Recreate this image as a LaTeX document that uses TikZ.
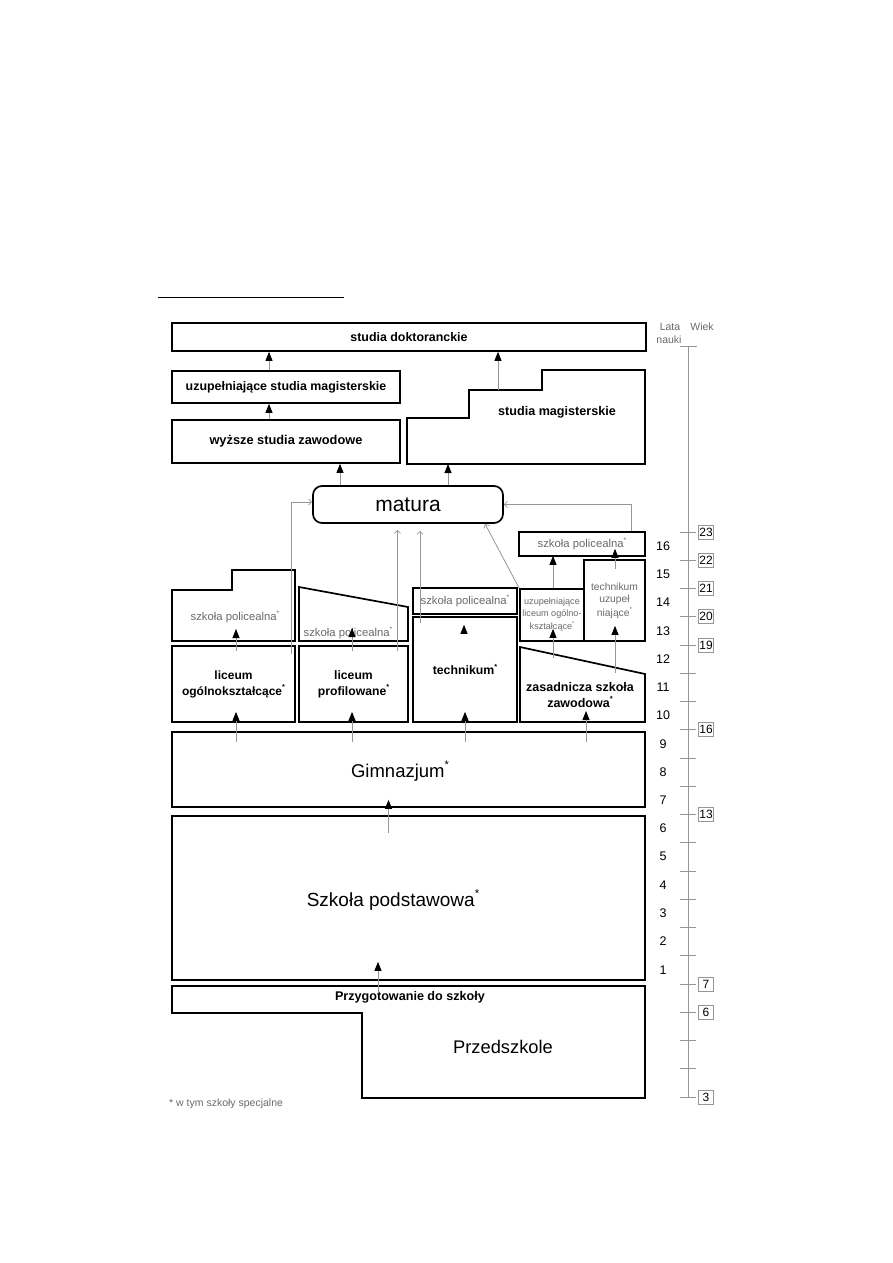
\documentclass[tikz,border=0pt]{standalone}
\usepackage{fontspec}
\setmainfont{Liberation Sans}
\usetikzlibrary{arrows.meta,positioning,calc}
\definecolor{LineGray}{RGB}{150,150,150}
\definecolor{TextGray}{RGB}{105,105,105}
\newcommand{\setfs}[1]{\fontsize{#1}{#1}\selectfont}
\newcommand{\st}{\raisebox{0.45em}{\scalebox{0.6}{*}}}
\tikzset{
  box/.style={draw=black, line width=1.7pt, inner sep=0pt, align=center},
  outline/.style={draw=black, line width=1.7pt},
  up/.style={draw=LineGray, line width=0.8pt, -{Triangle[width=7pt,length=9pt,color=black]}},
  feed/.style={draw=LineGray, line width=0.8pt, -{Straight Barb[width=6pt,length=3pt]}},
  graytext/.style={text=TextGray, inner sep=0pt, align=center},
  agebox/.style={draw=LineGray, line width=0.6pt, inner sep=0pt,
    minimum width=15pt, minimum height=14pt, font=\setfs{12}}
}

\begin{document}
\begin{tikzpicture}[x=1pt, y=-1pt]
  \useasboundingbox (0,0) rectangle (893,1263);
  \draw[line width=0.8pt] (158,297) -- (344,297);

  % studia
  \node[box, minimum width=474pt, minimum height=28pt, font=\setfs{12.4}\bfseries]
    (dokt) at (409,337) {studia doktoranckie};
  \node[box, minimum width=228pt, minimum height=32pt, font=\setfs{12.4}\bfseries]
    (uzmag) at (286,387) {uzupełniające studia magisterskie};
  \node[box, minimum width=228pt, minimum height=43pt, font=\setfs{12.8}\bfseries]
    (wsz) at (286,441.5) {wyższe studia zawodowe};
  \draw[outline] (407,464) -- (407,418) -- (469,418) -- (469,390) -- (542,390)
    -- (542,370) -- (645,370) -- (645,464) -- cycle;
  \node[font=\setfs{12.6}\bfseries] (mag) at (557,412) {studia magisterskie};
  \coordinate (mag-top) at (498,390);
  \coordinate (mag-bot) at (448,464);

  \node[box, rounded corners=9pt, minimum width=190pt, minimum height=37pt,
    font=\setfs{21}] (matura) at (408,504.5) {matura};

  % szkoly ponadgimnazjalne
  \draw[outline] (172,641) -- (172,590) -- (232,590) -- (232,570) -- (295,570)
    -- (295,641) -- cycle;
  \node[graytext, font=\setfs{11.3}] (polL) at (235,617) {szkoła policealna\st};
  \coordinate (polL-in) at (236,629);
  \draw[outline] (299,641) -- (299,587) -- (408,607) -- (408,641) -- cycle;
  \node[graytext, font=\setfs{11.3}] (polP) at (348,633) {szkoła policealna\st};
  \coordinate (polP-in) at (352,628);
  \node[box, minimum width=104pt, minimum height=26pt, graytext, font=\setfs{11.3}]
    (polT) at (465,601) {szkoła policealna\st};
  \node[box, minimum width=126pt, minimum height=24pt, graytext, font=\setfs{11.3}]
    (polZ) at (582,544) {szkoła policealna\st};

  \node[box, minimum width=123pt, minimum height=76pt, font=\setfs{12}\bfseries]
    (lic) at (233.5,684) {liceum\\[4pt]ogólnokształcące\st};
  \node[box, minimum width=109pt, minimum height=76pt, font=\setfs{12.2}\bfseries]
    (lprof) at (353.5,684) {liceum\\[4pt]profilowane\st};
  \node[box, minimum width=104pt, minimum height=105pt, font=\setfs{12.3}\bfseries]
    (tech) at (465,669.5) {technikum\st};
  \node[box, minimum width=64pt, minimum height=52pt, graytext, font=\setfs{9.1}]
    (uzlic) at (552,615) {uzupełniające\\[2.5pt]liceum ogólno-\\[2.5pt]kształcące\st};
  \node[box, minimum width=61pt, minimum height=81pt, graytext, font=\setfs{10.3}]
    (techuz) at (614.5,600.5) {technikum\\[2pt]uzupeł\\[2pt]niające\st};
  \draw[outline] (520,722) -- (520,647) -- (645,674) -- (645,722) -- cycle;
  \node[font=\setfs{12.5}\bfseries, align=center] (zsz) at (580,695)
    {zasadnicza szkoła\\[3pt]zawodowa\st};
  \coordinate (zsz-a) at (553,658);
  \coordinate (zsz-b) at (615,673);
  \coordinate (zsz-in) at (586,711);

  \node[box, minimum width=473pt, minimum height=75pt] (gim) at (408.5,769.5) {};
  \node[font=\setfs{18.5}] (gim-t) at (400,771) {Gimnazjum\st};
  \node[box, minimum width=473pt, minimum height=164pt] (sp) at (408.5,898) {};
  \node[font=\setfs{19}] (sp-t) at (393,900) {Szkoła podstawowa\st};

  % przedszkole
  \draw[outline] (172,986) -- (645,986) -- (645,1098) -- (362,1098) -- (362,1013)
    -- (172,1013) -- cycle;
  \node[font=\setfs{12.6}\bfseries] (przyg) at (410,997) {Przygotowanie do szkoły};
  \node[font=\setfs{18.3}] (przed) at (503,1047) {Przedszkole};
  \node[graytext, font=\setfs{10.5}, anchor=west] (note) at (169,1104)
    {* w tym szkoły specjalne};

  % strzalki w gore
  \draw[up] ([xshift=-17pt]uzmag.north) -- ([xshift=-17pt]uzmag.north |- dokt.south);
  \draw[up] ([xshift=-17pt]wsz.north) -- ([xshift=-17pt]wsz.north |- uzmag.south);
  \draw[up] (mag-top) -- (mag-top |- dokt.south);
  \draw[up] ([xshift=-68pt]matura.north) -- ([xshift=-68pt]matura.north |- wsz.south);
  \draw[up] ([xshift=40pt]matura.north) -- (mag-bot);
  \draw[up] ([yshift=-6pt]lic.north -| polL-in) -- (polL-in);
  \draw[up] ([yshift=-6pt]lprof.north -| polP-in) -- (polP-in);
  \draw[up] ([xshift=-1pt,yshift=-10pt]tech.north) -- ([xshift=-1pt,yshift=-10pt]polT.south);
  \draw[up] (zsz-a) -- ([xshift=1pt,yshift=13pt]uzlic.south);
  \draw[up] (zsz-b) -- ([xshift=0.5pt,yshift=16pt]techuz.south);
  \draw[up] ([xshift=1pt]uzlic.north) -- ([xshift=-29pt,yshift=1pt]polZ.south);
  \draw[up] ([xshift=0.5pt,yshift=-10pt]techuz.north) -- ([xshift=33pt,yshift=8pt]polZ.south);
  \draw[up] ([yshift=-11pt]gim.north -| polL-in) -- ([yshift=11pt]lic.south -| polL-in);
  \draw[up] ([yshift=-11pt]gim.north -| polP-in) -- ([yshift=11pt]lprof.south -| polP-in);
  \draw[up] ([yshift=-11pt]gim.north -| tech.center) -- ([yshift=11pt]tech.south);
  \draw[up] ([yshift=-11pt]gim.north -| zsz-in) -- (zsz-in);
  \draw[up] ([xshift=-20pt,yshift=-18pt]sp.north) -- ([xshift=-20pt,yshift=8pt]gim.south);
  \draw[up] ([xshift=-30.5pt,yshift=-12pt]sp.south) -- ([xshift=-30.5pt,yshift=19pt]sp.south);

  % do matury
  \draw[feed] ([xshift=57.5pt,yshift=-9pt]lic.north) |- ([yshift=2.5pt]matura.west);
  \draw[feed] ([xshift=44pt,yshift=-6pt]lprof.north) -- ([xshift=44pt,yshift=-6pt]lprof.north |- matura.south);
  \draw[feed] ([xshift=-45pt,yshift=-7pt]tech.north) -- ([xshift=-45pt,yshift=-7pt]tech.north |- matura.south);
  \draw[feed] (uzlic.north west) -- ([xshift=77pt]matura.south);
  \draw[feed] ([xshift=49pt]polZ.north) |- (matura.east);

  % skala
  \node[graytext, font=\setfs{10.5}] (lata) at (670,327) {Lata};
  \node[graytext, font=\setfs{10.5}] (wiek) at (702,327) {Wiek};
  \node[graytext, font=\setfs{10.5}] (nauki) at (669,340) {nauki};
  \draw[LineGray, line width=0.9pt] (688,346) -- (688,1097);
  \draw[LineGray, line width=0.8pt] (680,346) -- (697,346);
  \foreach \a in {3,...,23}
    \draw[LineGray, line width=0.8pt] (680,{532+(23-\a)*28.25}) -- (696,{532+(23-\a)*28.25});
  \foreach \a in {23,22,21,20,19,16,13,7,6,3}
    \node[agebox] (wiek-\a) at (706,{532+(23-\a)*28.25}) {\a};
  \foreach \n in {1,...,16}
    \node[font=\setfs{12.5}] (rok-\n) at (663,{546+(16-\n)*28.25}) {\n};
\end{tikzpicture}
\end{document}
